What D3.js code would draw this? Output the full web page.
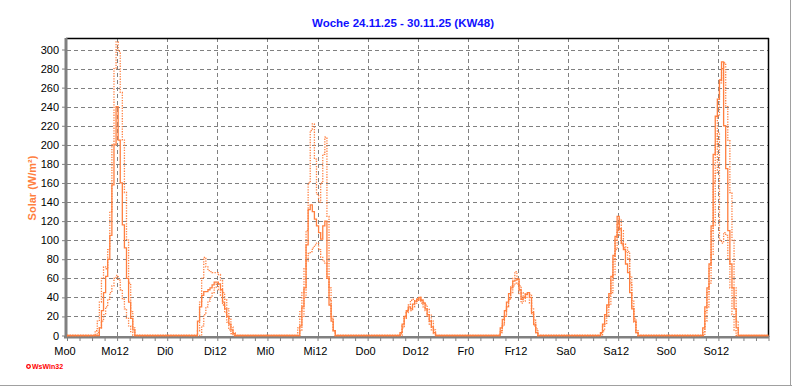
<!DOCTYPE html>
<html><head><meta charset="utf-8">
<script src="https://cdn.jsdelivr.net/npm/d3@7"></script>
<style>
html,body{margin:0;padding:0;background:#fff;}
svg{display:block;}
text{font-family:"Liberation Sans",Arial,sans-serif;}
</style></head>
<body>
<script>
// ---- data ----
const title = "Woche 24.11.25 - 30.11.25 (KW48)";
const yLabel = "Solar (W/m²)";
const dayNames = ["Mo","Di","Mi","Do","Fr","Sa","So"];
const yTicks = [0,20,40,60,80,100,120,140,160,180,200,220,240,260,280,300];
const startHour = 7;      // first value of each day at 07:00
const stepHours = 0.5;    // half-hour values

// solid line (per day, from 07:00, every 30 min)
const solidMo = [0,0,8,26,45,62,80,105,158,200,240,205,160,116,92,60,35,18,6,0];
const solidDi = [0,15,30,42,46,46,48,50,53,56,56,54,48,35,28,20,12,6,2,0];
const solidMi = [0,0,10,30,50,95,132,137,130,122,115,108,101,115,120,60,32,15,5,0];
const solidDo = [0,0,3,12,20,26,30,28,33,36,38,40,37,34,28,22,15,9,3,0];
const solidFr = [0,0,8,17,26,35,44,50,57,58,59,48,38,40,43,45,40,24,12,3,0];
const solidSa = [0,0,3,12,22,32,44,62,84,104,125,112,97,90,75,66,45,28,15,3,0];
const solidSo = [0,0,0,8,30,50,75,115,190,230,248,268,287,220,175,110,75,50,28,8,0];

// upper dotted line
const upperMo = [5,15,35,60,72,70,90,130,200,280,308,298,255,205,150,100,55,25,8,0];
const upperDi = [0,5,35,60,82,72,68,67,66,66,66,64,58,45,38,28,18,9,3,0];
const upperMi = [0,8,25,45,70,110,160,215,222,185,148,140,160,190,208,125,50,20,5,0];
const upperDo = [0,0,0,8,18,25,32,37,38,36,38,40,37,35,32,28,22,15,6,0];
const upperFr = [0,0,3,10,20,30,38,52,60,67,60,52,45,41,44,45,43,28,16,7,0];
const upperSa = [0,0,0,5,12,20,32,45,64,90,110,122,110,96,93,88,62,36,18,5,0];
const upperSo = [0,0,0,0,15,30,55,85,115,170,230,265,280,286,240,205,150,100,50,15,0];

// lower dotted line
const lowerMo = [0,3,8,15,22,30,38,45,52,60,63,58,48,38,28,18,10,4,0,0];
const lowerDi = [0,0,0,10,22,30,36,40,45,50,54,48,42,32,24,14,6,2,0,0];
const lowerMi = [0,0,5,20,40,78,86,88,92,95,97,90,82,78,76,62,38,18,5,0];
const lowerDo = [0,0,2,10,18,24,28,26,30,34,36,38,34,30,26,20,12,6,2,0];
const lowerFr = [0,0,5,12,20,30,38,45,52,55,54,44,34,36,40,40,34,22,10,3,0];
const lowerSa = [0,0,2,10,20,30,42,58,80,100,118,105,95,92,88,80,55,30,14,3,0];
const lowerSo = [0,0,0,3,25,45,70,110,160,200,213,100,97,108,105,80,50,22,5,0,0];

const solidDays = [solidMo,solidDi,solidMi,solidDo,solidFr,solidSa,solidSo];
const upperDays = [upperMo,upperDi,upperMi,upperDo,upperFr,upperSa,upperSo];
const lowerDays = [lowerMo,lowerDi,lowerMi,lowerDo,lowerFr,lowerSa,lowerSo];

// ---- build full week series ----
function buildSeries(days){
  const n = 7*24/stepHours;
  const vals = new Array(n+1).fill(0);
  days.forEach((arr,d)=>{
    arr.forEach((v,i)=>{ vals[d*24/stepHours + startHour/stepHours + i] = v; });
  });
  return vals.map((v,i)=>({t:i*stepHours, v}));
}

const W = 792, H = 387;
const svg = d3.select("body").append("svg").attr("width",W).attr("height",H);

const x = d3.scaleLinear().domain([0,168]).range([67,768.5]);
const y = d3.scaleLinear().domain([0,300]).range([335.5,49.5]);
const orange = "#ff7f3f";

// grid
const grid = svg.append("g").attr("stroke","#808080").attr("stroke-width",1).attr("stroke-dasharray","4,3").attr("shape-rendering","crispEdges");
yTicks.filter(v=>v>0).forEach(v=>{
  grid.append("line").attr("x1",x(0)).attr("x2",x(168)).attr("y1",Math.round(y(v))+0.5).attr("y2",Math.round(y(v))+0.5);
});
d3.range(12,168,12).forEach(h=>{
  grid.append("line").attr("x1",Math.round(x(h))+0.5).attr("x2",Math.round(x(h))+0.5).attr("y1",38).attr("y2",336);
});

// frame top/right
svg.append("line").attr("x1",66).attr("x2",769).attr("y1",38.5).attr("y2",38.5).attr("stroke","#000").attr("stroke-width",1.5);
svg.append("line").attr("x1",768.5).attr("x2",768.5).attr("y1",38).attr("y2",337).attr("stroke","#000").attr("stroke-width",1.5);

// bottom axis
const xTickVals = d3.range(0,169,3);
const xAxis = d3.axisBottom(x).tickValues(xTickVals).tickSize(5).tickFormat("");
const gx = svg.append("g").attr("transform","translate(0,336)").call(xAxis);
gx.select(".domain").remove();
gx.selectAll(".tick line").attr("stroke","#808080");
svg.append("rect").attr("x",64).attr("y",336).attr("width",705).attr("height",2.5).attr("fill","#808080");
// x labels
d3.range(0,168,12).forEach(h=>{
  svg.append("text").attr("x",x(h)-2).attr("y",355).attr("text-anchor","middle")
    .attr("font-size",11).attr("fill","#000")
    .text(dayNames[Math.floor(h/24)] + (h%24));
});

// left axis
svg.append("rect").attr("x",64.5).attr("y",38).attr("width",3).attr("height",300).attr("fill","#808080");
const yAxis = d3.axisLeft(y).tickValues(yTicks).tickSize(3).tickFormat(d=>d);
const gy = svg.append("g").attr("transform","translate(65,0)").call(yAxis);
gy.select(".domain").remove();
gy.selectAll(".tick line").attr("stroke","#808080");
gy.selectAll(".tick text").attr("font-size",11).attr("fill","#000").attr("x",-6)
  .attr("font-family","'Liberation Sans',Arial,sans-serif");

// series lines
const line = d3.line().x(d=>x(d.t)).y(d=>y(d.v)).curve(d3.curveStep);
svg.append("path").datum(buildSeries(lowerDays)).attr("d",line)
  .attr("fill","none").attr("stroke",orange).attr("stroke-width",1.3).attr("stroke-dasharray","1.3,1.3");
svg.append("path").datum(buildSeries(upperDays)).attr("d",line)
  .attr("fill","none").attr("stroke",orange).attr("stroke-width",1.3).attr("stroke-dasharray","1.3,1.3");
svg.append("path").datum(buildSeries(solidDays)).attr("d",line)
  .attr("fill","none").attr("stroke",orange).attr("stroke-width",1.3);

// title
svg.append("text").attr("x",403).attr("y",27).attr("text-anchor","middle")
  .attr("font-size",11.5).attr("font-weight","bold").attr("fill","#1010ff").text(title);

// y label
svg.append("text").attr("transform","translate(36,188) rotate(-90)").attr("text-anchor","middle")
  .attr("font-size",11).attr("font-weight","bold").attr("fill",orange).text(yLabel);

// WsWin32 mark
svg.append("circle").attr("cx",28.5).attr("cy",366.5).attr("r",1.8).attr("fill","#fff").attr("stroke","#ff0000").attr("stroke-width",1.3);
svg.append("text").attr("x",32).attr("y",369).attr("font-size",7).attr("font-weight","bold").attr("fill","#ff0000").text("WsWin32");

// outer border
svg.append("line").attr("x1",0).attr("x2",792).attr("y1",385.5).attr("y2",385.5).attr("stroke","#a0a0a0");
svg.append("line").attr("x1",790.5).attr("x2",790.5).attr("y1",0).attr("y2",386).attr("stroke","#a0a0a0");
</script>
</body></html>
